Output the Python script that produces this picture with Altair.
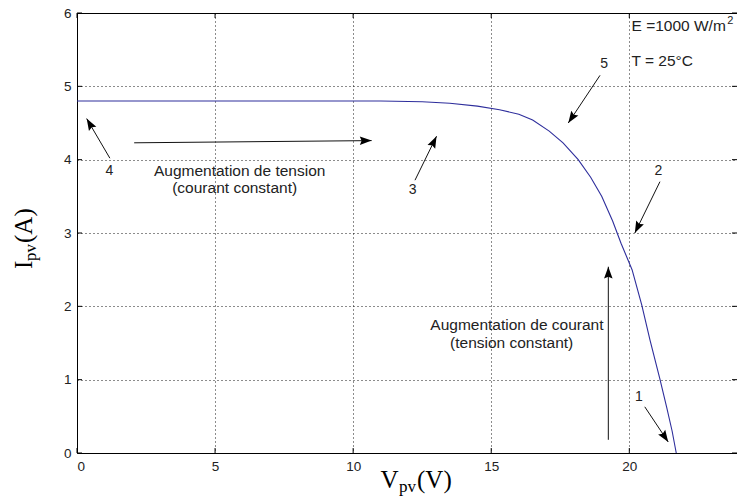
import math

import altair as alt
import pandas as pd

# I-V characteristic of the PV module (V in volts, I in amperes)
V_PV = [0.0, 6.0, 11.0, 12.5, 13.5, 14.5, 15.3, 16.0, 16.5, 17.1, 17.6, 18.15,
        18.6, 19.0, 19.4, 19.7, 20.1, 20.45, 20.75, 21.1, 21.35, 21.55, 21.7]
I_PV = [4.80, 4.80, 4.80, 4.79, 4.77, 4.73, 4.68, 4.62, 4.54, 4.39, 4.23, 4.00,
        3.76, 3.50, 3.16, 2.86, 2.50, 2.02, 1.54, 1.02, 0.63, 0.30, 0.0]

X_TICKS = [0, 5, 10, 15, 20]
Y_TICKS = [0, 1, 2, 3, 4, 5, 6]
X_MAX = 23.9
Y_MAX = 6

# annotation arrows: tail -> head, in data units
ARROW_TAIL_V = [20.56, 21.11, 12.24, 1.19, 18.94, 2.07, 19.24]
ARROW_TAIL_I = [0.63, 3.70, 3.72, 4.02, 5.15, 4.23, 0.18]
ARROW_HEAD_V = [21.41, 20.20, 13.02, 0.35, 17.79, 10.67, 19.24]
ARROW_HEAD_I = [0.15, 3.00, 4.32, 4.56, 4.50, 4.26, 2.54]

POINT_LABELS = ["1", "2", "3", "4", "5"]
POINT_LABEL_V = [20.35, 21.05, 12.15, 1.17, 19.09]
POINT_LABEL_I = [0.77, 3.84, 3.59, 3.84, 5.31]

NOTE_TEXT = ["Augmentation de tension", "(courant constant)",
             "Augmentation de courant", "(tension constant)"]
NOTE_V = [5.89, 5.71, 15.93, 15.74]
NOTE_I = [3.84, 3.62, 1.745, 1.50]

COND_TEXT = ["E =1000 W/m", "T = 25°C"]
COND_V = [20.08, 20.08]
COND_I = [5.82, 5.34]
SUP_TEXT = ["2"]
SUP_V = [23.55]
SUP_I = [5.89]

W, H = 660, 440
PX_X = W / X_MAX
PX_Y = H / Y_MAX

SANS = "Liberation Sans"
SERIF = "Liberation Serif"

xs = alt.Scale(domain=[0, X_MAX], nice=False, zero=False)
ys = alt.Scale(domain=[0, Y_MAX], nice=False, zero=False)


def X(field, **kw):
    return alt.X(field, type="quantitative", scale=xs, **kw)


def Y(field, **kw):
    return alt.Y(field, type="quantitative", scale=ys, **kw)


curve = pd.DataFrame({"V": V_PV, "I": I_PV, "k": range(len(V_PV))})

arrows = pd.DataFrame({"tv": ARROW_TAIL_V, "ti": ARROW_TAIL_I,
                       "hv": ARROW_HEAD_V, "hi": ARROW_HEAD_I})
# heading of each arrow on screen, clockwise from "up"
arrows["ang"] = [
    math.degrees(math.atan2((hv - tv) * PX_X, (hi - ti) * PX_Y)) % 360
    for tv, ti, hv, hi in zip(ARROW_TAIL_V, ARROW_TAIL_I, ARROW_HEAD_V, ARROW_HEAD_I)
]

labels = pd.DataFrame({"t": POINT_LABELS, "V": POINT_LABEL_V, "I": POINT_LABEL_I})
notes = pd.DataFrame({"t": NOTE_TEXT, "V": NOTE_V, "I": NOTE_I})
conds = pd.DataFrame({"t": COND_TEXT, "V": COND_V, "I": COND_I})
sups = pd.DataFrame({"t": SUP_TEXT, "V": SUP_V, "I": SUP_I})
xt = pd.DataFrame({"v": X_TICKS})
yt = pd.DataFrame({"v": Y_TICKS})
one = pd.DataFrame({"d": [0]})

dotted = dict(gridColor="#000000", gridDash=[1, 3], gridOpacity=0.9, gridWidth=1)

# axes with dotted grid, labels outside
axes = alt.Chart(yt).mark_point(opacity=0).encode(
    x=alt.X("v:Q", scale=xs, axis=alt.Axis(values=X_TICKS, title="", ticks=False, format="d",
                                           domain=False, labelPadding=6, **dotted)),
    y=alt.Y("v:Q", scale=ys, axis=alt.Axis(values=Y_TICKS, title="", ticks=False, format="d",
                                           domain=False, labelPadding=6, **dotted)),
)

# inward tick marks on all four sides
tick_len = 5
xt_bottom = alt.Chart(xt).mark_rule(color="black").encode(
    x=X("v"), y=alt.value(H), y2=alt.value(H - tick_len))
xt_top = alt.Chart(xt).mark_rule(color="black").encode(
    x=X("v"), y=alt.value(0), y2=alt.value(tick_len))
yt_left = alt.Chart(yt).mark_rule(color="black").encode(
    y=Y("v"), x=alt.value(0), x2=alt.value(tick_len))
yt_right = alt.Chart(yt).mark_rule(color="black").encode(
    y=Y("v"), x=alt.value(W), x2=alt.value(W - tick_len))

line = alt.Chart(curve).mark_line(color="#2e2e9c", strokeWidth=1.1).encode(
    x=X("V"), y=Y("I"), order="k:Q")

shafts = alt.Chart(arrows).mark_rule(color="#111111", strokeWidth=1).encode(
    x=X("tv"), y=Y("ti"), x2="hv:Q", y2="hi:Q")

heads = alt.Chart(arrows).mark_point(
    shape="M0,0 L0.36,1 L0,0.85 L-0.36,1 Z", filled=True, color="black",
    opacity=1, size=560, strokeWidth=0,
).encode(x=X("hv"), y=Y("hi"), angle=alt.Angle("ang:Q", scale=None))

num_text = alt.Chart(labels).mark_text(font=SANS, fontSize=14, color="#222222",
                                       baseline="middle").encode(
    x=X("V"), y=Y("I"), text="t:N")

note_text = alt.Chart(notes).mark_text(font=SANS, fontSize=15.5, color="#222222",
                                       baseline="middle").encode(
    x=X("V"), y=Y("I"), text="t:N")

cond_text = alt.Chart(conds).mark_text(font=SANS, fontSize=15.5, color="#222222",
                                       align="left", baseline="middle").encode(
    x=X("V"), y=Y("I"), text="t:N")

sup_text = alt.Chart(sups).mark_text(font=SANS, fontSize=11, color="#222222",
                                     align="left", baseline="middle").encode(
    x=X("V"), y=Y("I"), text="t:N")


def piece(txt, px, py, size, angle=0):
    return alt.Chart(one).mark_text(text=txt, font=SERIF, fontSize=size, color="black",
                                    align="left", baseline="alphabetic", angle=angle).encode(
        x=alt.value(px), y=alt.value(py))


# axis titles with subscripts
x_title = [piece("V", 303.5, 475, 25), piece("pv", 322, 479, 17), piece("(V)", 340, 475, 25)]
y_title = [piece("I", -45, 256, 25, 270), piece("pv", -41, 248, 17, 270),
           piece("(A)", -45, 230, 25, 270)]

chart = alt.layer(
    axes, xt_bottom, xt_top, yt_left, yt_right, line, shafts, heads,
    num_text, note_text, cond_text, sup_text, *x_title, *y_title,
).properties(
    width=W, height=H,
    padding={"left": 77, "top": 13, "right": 0, "bottom": 50},
    autosize=alt.AutoSizeParams(type="none"),
    background="white",
).configure_view(
    stroke="black", strokeWidth=1,
).configure_axis(
    labelFont=SANS, labelFontSize=13.5, labelColor="#222222",
)

chart.save("out.html", embed_options={"renderer": "svg", "actions": False})
